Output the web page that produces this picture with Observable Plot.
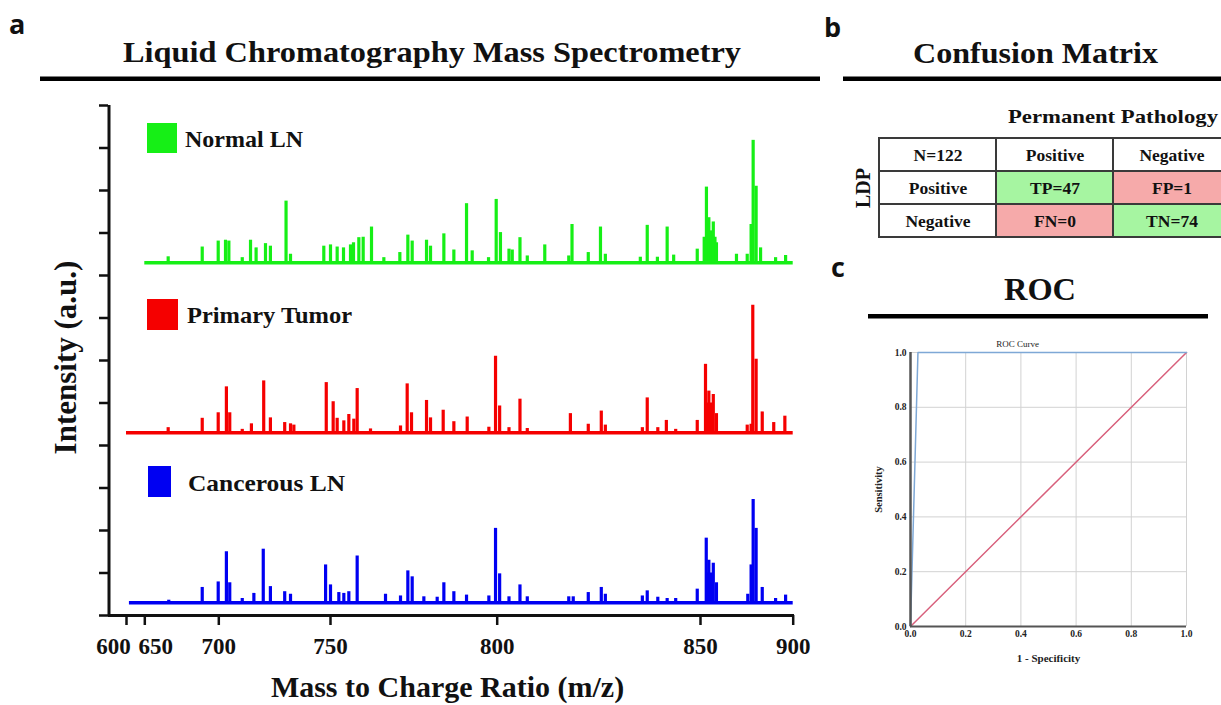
<!DOCTYPE html>
<html><head><meta charset="utf-8">
<script src="https://cdn.jsdelivr.net/npm/d3@7"></script>
<script src="https://cdn.jsdelivr.net/npm/@observablehq/plot@0.6"></script>
<style>
html,body{margin:0;padding:0;background:#fff;}
#fig{position:relative;width:1221px;height:705px;overflow:hidden;background:#fff;}
#fig > svg{position:absolute;margin:0;}
</style></head><body><div id="fig"></div>
<script>
const SERIF = '"Liberation Serif","Times New Roman",serif';

// ---------- Panel a: LC-MS spectra (m/z, intensity above each trace baseline) ----------
const xTicks = [600, 650, 700, 750, 800, 850, 900];
const yTicks = [0,10,20,30,40,50,60,70,80,90,100,110,120];

const normalPeaks = [[665.8,1.4],[688.8,3.7],[699.6,5.1],[703.0,5.3],[704.5,5.1],[710.5,1.2],[714.2,5.3],[716.7,3.5],[720.9,4.5],[723.1,3.9],[730.1,14.5],[732.1,2.0],[747.0,3.9],[750.0,4.2],[752.0,3.7],[753.9,3.5],[756.0,4.2],[756.9,4.7],[758.5,5.9],[759.8,6.0],[762.3,8.4],[766.0,1.2],[770.8,2.4],[773.2,6.5],[774.5,5.1],[778.8,5.3],[780.0,3.9],[784.0,6.8],[787.0,3.0],[790.8,13.9],[792.5,2.8],[797.4,1.2],[799.7,14.9],[800.8,7.1],[802.9,3.2],[803.7,3.0],[805.6,5.9],[807.4,1.6],[811.7,4.2],[817.6,1.6],[818.4,9.0],[822.4,2.4],[825.4,8.4],[826.6,2.0],[835.2,1.3],[836.9,8.8],[839.4,1.3],[841.8,8.4],[843.4,1.8],[849.2,3.2],[852.0,6.0],[853.2,17.8],[854.5,10.6],[855.6,7.5],[856.9,9.6],[857.8,6.0],[858.6,4.7],[869.4,2.0],[875.2,2.0],[877.3,9.0],[878.4,28.8],[880.0,18.0],[882.4,3.5],[890.5,1.2],[895.9,1.7]];

const tumorPeaks = [[665.8,1.2],[688.8,3.4],[699.6,4.7],[703.4,10.8],[704.9,4.7],[710.5,0.8],[714.6,2.1],[720.1,12.2],[723.1,3.5],[729.5,2.4],[732.1,2.1],[733.6,1.8],[748.1,11.8],[750.8,7.3],[752.0,3.4],[754.0,2.8],[755.5,4.3],[757.0,3.2],[758.0,10.4],[762.0,0.9],[771.0,1.6],[773.0,11.5],[774.3,4.7],[778.8,7.6],[780.0,3.5],[783.8,5.3],[787.0,2.6],[791.0,3.7],[797.5,1.3],[799.5,18.0],[800.6,6.3],[802.9,1.2],[805.6,7.9],[807.4,1.0],[818.0,4.5],[822.4,2.0],[825.6,5.1],[826.6,1.8],[835.7,1.2],[836.9,8.2],[839.5,1.2],[841.6,2.9],[843.9,0.8],[849.2,2.9],[852.7,16.1],[853.8,7.0],[854.5,9.8],[855.7,7.0],[856.9,9.0],[858.6,4.5],[875.2,1.8],[877.3,2.0],[878.2,30.0],[880.0,17.3],[883.3,4.9],[889.5,2.4],[895.5,3.9]];

const cancerPeaks = [[666.2,0.6],[688.8,3.6],[699.6,4.9],[703.4,12.0],[704.9,4.7],[710.5,1.0],[715.7,2.2],[719.9,12.6],[723.1,3.8],[729.5,2.6],[732.1,2.0],[747.8,8.9],[750.0,4.2],[752.5,2.4],[754.0,2.2],[755.5,2.6],[758.0,11.0],[766.5,2.0],[771.0,1.6],[773.2,7.5],[774.5,6.1],[778.0,1.4],[782.0,1.3],[784.0,4.7],[787.0,2.6],[790.8,1.8],[797.5,1.6],[799.5,17.5],[800.6,6.8],[802.9,1.4],[805.6,4.2],[807.4,1.4],[817.6,1.4],[818.7,1.4],[822.4,2.4],[825.6,3.6],[826.6,2.0],[835.7,1.6],[836.9,2.8],[839.5,1.3],[841.8,1.0],[843.9,1.0],[849.2,3.2],[853.1,15.2],[853.9,7.0],[854.5,10.0],[855.7,7.0],[856.9,9.3],[858.6,4.7],[875.5,2.0],[877.3,8.9],[878.4,24.3],[880.0,17.5],[883.3,3.6],[890.5,1.0],[895.9,1.8]];

const seriesNames = ["Normal LN", "Primary Tumor", "Cancerous LN"];
const seriesOffsets = [83, 43, 3];          // baseline of each stacked trace
const seriesStarts = [650, 600, 608];       // first m/z of each trace
const seriesEnd = 900;
const seriesPeaks = [normalPeaks, tumorPeaks, cancerPeaks];
const seriesColors = ["#16ef16", "#f50000", "#0000f2"];

const baselines = seriesNames.map((name, i) => ({name, start: seriesStarts[i], end: seriesEnd, offset: seriesOffsets[i], color: seriesColors[i]}));
const spikes = seriesPeaks.flatMap((peaks, i) => peaks.map(([mz, h]) => ({mz, y1: seriesOffsets[i], y2: seriesOffsets[i] + h, color: seriesColors[i]})));

const plotA = Plot.plot({
  width: 800, height: 705,
  marginLeft: 108, marginRight: 6, marginTop: 105, marginBottom: 90,
  x: {type: "linear", domain: [575, 600, 650, 700, 750, 800, 850, 900], range: [108.5, 126, 144.3, 218.3, 330, 496.7, 700, 792.7], label: null},
  y: {domain: [0, 120], range: [615, 105], label: null},
  color: {type: "identity"},
  style: {fontFamily: SERIF, fontWeight: "bold", color: "#111", background: "transparent", overflow: "visible"},
  marks: [
    Plot.ruleY(baselines, {x1: "start", x2: "end", y: "offset", stroke: "color", strokeWidth: 3.5}),
    Plot.ruleX(spikes, {x: "mz", y1: "y1", y2: "y2", stroke: "color", strokeWidth: 3.2}),
    Plot.ruleX([575], {stroke: "#111", strokeWidth: 3}),
    Plot.ruleY([0], {stroke: "#111", strokeWidth: 3}),
    Plot.axisY({ticks: yTicks, tickSize: 9, tickFormat: () => "", strokeWidth: 2.5}),
    Plot.axisX({ticks: xTicks, tickSize: 10, tickFormat: () => "", strokeWidth: 2.5}),
    Plot.text(xTicks.filter(t => t >= 700), {x: d => d, text: d => String(d), frameAnchor: "bottom", lineAnchor: "middle", textAnchor: "middle", dy: 31, fontSize: 23, fontWeight: "bold", fill: "#111"}),
    Plot.text([600], {x: d => d, text: d => String(d), frameAnchor: "bottom", lineAnchor: "middle", textAnchor: "middle", dy: 31, dx: -13, fontSize: 23, fontWeight: "bold", fill: "#111"}),
    Plot.text([650], {x: d => d, text: d => String(d), frameAnchor: "bottom", lineAnchor: "middle", textAnchor: "middle", dy: 31, dx: 11, fontSize: 23, fontWeight: "bold", fill: "#111"}),
    Plot.text(["Intensity (a.u.)"], {text: d => d, frameAnchor: "left", textAnchor: "middle", lineAnchor: "middle", rotate: -90, dx: -42, dy: -3, fontSize: 31, fontWeight: "bold", fill: "#111"}),
    Plot.text(["Mass to Charge Ratio (m/z)"], {text: d => d, frameAnchor: "bottom", textAnchor: "middle", lineAnchor: "middle", dx: -4, dy: 72, fontSize: 30, fontWeight: "bold", fill: "#111"})
  ]
});
plotA.style.left = "0px"; plotA.style.top = "0px";

// ---------- Panel b: confusion matrix ----------
const cmHeader = ["N=122", "Positive", "Negative"];
const cmRowLabels = ["Positive", "Negative"];
const cmCodes = [["TP", "FP"], ["FN", "TN"]];
const cmCounts = [[47, 1], [0, 74]];

const cmCells = [];
cmHeader.forEach((t, c) => cmCells.push({r: 0, c, text: t, kind: "head"}));
cmRowLabels.forEach((lab, i) => {
  cmCells.push({r: i + 1, c: 0, text: lab, kind: "head"});
  cmCounts[i].forEach((n, j) => cmCells.push({r: i + 1, c: j + 1, text: `${cmCodes[i][j]}=${n}`, kind: i === j ? "correct" : "wrong"}));
});
const cmFill = {head: "#ffffff", correct: "#a6f5a1", wrong: "#f6aaaa"};

const plotB = Plot.plot({
  width: 356, height: 104, margin: 0,
  x: {type: "band", domain: [0, 1, 2], range: [2, 353], padding: 0, axis: null, round: false},
  y: {type: "band", domain: [0, 1, 2], range: [2, 101], padding: 0, axis: null, round: false},
  color: {type: "identity"},
  style: {fontFamily: SERIF, fontWeight: "bold", color: "#111", background: "transparent"},
  marks: [
    Plot.cell(cmCells, {x: "c", y: "r", fill: d => cmFill[d.kind], stroke: "#3a3a3a", strokeWidth: 2}),
    Plot.text(cmCells, {x: "c", y: "r", text: "text", fontSize: 17.5, fontWeight: "bold", fill: "#111"})
  ]
});
plotB.style.left = "877px"; plotB.style.top = "136px";

// ---------- Panel c: ROC curve ----------
const rocTicks = [0, 0.2, 0.4, 0.6, 0.8, 1.0];
const rocFPR = [0, 0.027, 1];
const rocTPR = [0, 1, 1];
const refDiag = [0, 1];

const plotC = Plot.plot({
  width: 340, height: 340,
  marginLeft: 50, marginRight: 14, marginTop: 22, marginBottom: 44,
  x: {domain: [0, 1], label: null},
  y: {domain: [0, 1], label: null},
  style: {fontFamily: SERIF, fontWeight: "bold", color: "#222", background: "transparent", overflow: "visible"},
  marks: [
    Plot.gridX({ticks: rocTicks, stroke: "#d2d2d2", strokeOpacity: 1, strokeWidth: 1}),
    Plot.gridY({ticks: rocTicks, stroke: "#d2d2d2", strokeOpacity: 1, strokeWidth: 1}),
    Plot.line(refDiag, {x: d => d, y: d => d, stroke: "#d8607c", strokeWidth: 1.5}),
    Plot.line(rocFPR.map((f, i) => ({f, t: rocTPR[i]})), {x: "f", y: "t", stroke: "#7ea8d6", strokeWidth: 1.5}),
    Plot.ruleX([0], {stroke: "#555", strokeWidth: 2.5}),
    Plot.ruleY([0], {stroke: "#555", strokeWidth: 2}),
    Plot.axisX({ticks: rocTicks, tickSize: 0, tickPadding: 4, tickFormat: d3.format(".1f"), fontSize: 9.5}),
    Plot.axisY({ticks: rocTicks, tickSize: 0, tickPadding: 4, tickFormat: d3.format(".1f"), fontSize: 9.5}),
    Plot.text(["ROC Curve"], {text: d => d, frameAnchor: "top", textAnchor: "middle", lineAnchor: "middle", dx: -31, dy: -8, fontSize: 9, fontWeight: "normal", fill: "#222"}),
    Plot.text(["Sensitivity"], {text: d => d, frameAnchor: "left", textAnchor: "middle", lineAnchor: "middle", rotate: -90, dx: -32, fontSize: 10.5, fontWeight: "bold", fill: "#222"}),
    Plot.text(["1 - Specificity"], {text: d => d, frameAnchor: "bottom", textAnchor: "middle", lineAnchor: "middle", dy: 32, fontSize: 11, fontWeight: "bold", fill: "#222"})
  ]
});
plotC.style.left = "860px"; plotC.style.top = "330px";

// ---------- Overlay: panel letters, headings, legend ----------
const legendY = [123, 299, 466];
const overlay = `
<svg xmlns="http://www.w3.org/2000/svg" width="1221" height="705" style="left:0;top:0;pointer-events:none">
  <g font-family="'Open Sans','DejaVu Sans',sans-serif" font-weight="700" font-size="27" fill="#111">
    <text x="9" y="34">a</text>
    <text x="824" y="37">b</text>
    <text x="831" y="277">c</text>
  </g>
  <g font-family='${SERIF}' font-weight="bold" fill="#111">
    <text x="123" y="62" font-size="30" textLength="618" lengthAdjust="spacingAndGlyphs">Liquid Chromatography Mass Spectrometry</text>
    <text x="913" y="63" font-size="30" textLength="245" lengthAdjust="spacingAndGlyphs">Confusion Matrix</text>
    <text x="1004" y="300" font-size="31" textLength="72" lengthAdjust="spacingAndGlyphs">ROC</text>
    <text x="1008" y="123" font-size="19.5" textLength="210" lengthAdjust="spacingAndGlyphs">Permanent Pathology</text>
    <text transform="translate(870,188) rotate(-90)" text-anchor="middle" font-size="20">LDP</text>
    <text x="185" y="147" font-size="24" textLength="118" lengthAdjust="spacingAndGlyphs">${seriesNames[0]}</text>
    <text x="187" y="323" font-size="24" textLength="165" lengthAdjust="spacingAndGlyphs">${seriesNames[1]}</text>
    <text x="188" y="491" font-size="24" textLength="157" lengthAdjust="spacingAndGlyphs">${seriesNames[2]}</text>
  </g>
  <rect x="147" y="${legendY[0]}" width="30" height="30" fill="${seriesColors[0]}"/>
  <rect x="147" y="${legendY[1]}" width="31" height="31" fill="${seriesColors[1]}"/>
  <rect x="148" y="${legendY[2]}" width="23" height="31" fill="${seriesColors[2]}"/>
  <rect x="40" y="76.5" width="780" height="4.5" fill="#000"/>
  <rect x="843" y="76.5" width="378" height="4.5" fill="#000"/>
  <rect x="868" y="314" width="340" height="4.5" fill="#000"/>
</svg>`;

const fig = document.getElementById("fig");
fig.appendChild(plotA);
fig.appendChild(plotB);
fig.appendChild(plotC);
fig.insertAdjacentHTML("beforeend", overlay);
</script></body></html>
